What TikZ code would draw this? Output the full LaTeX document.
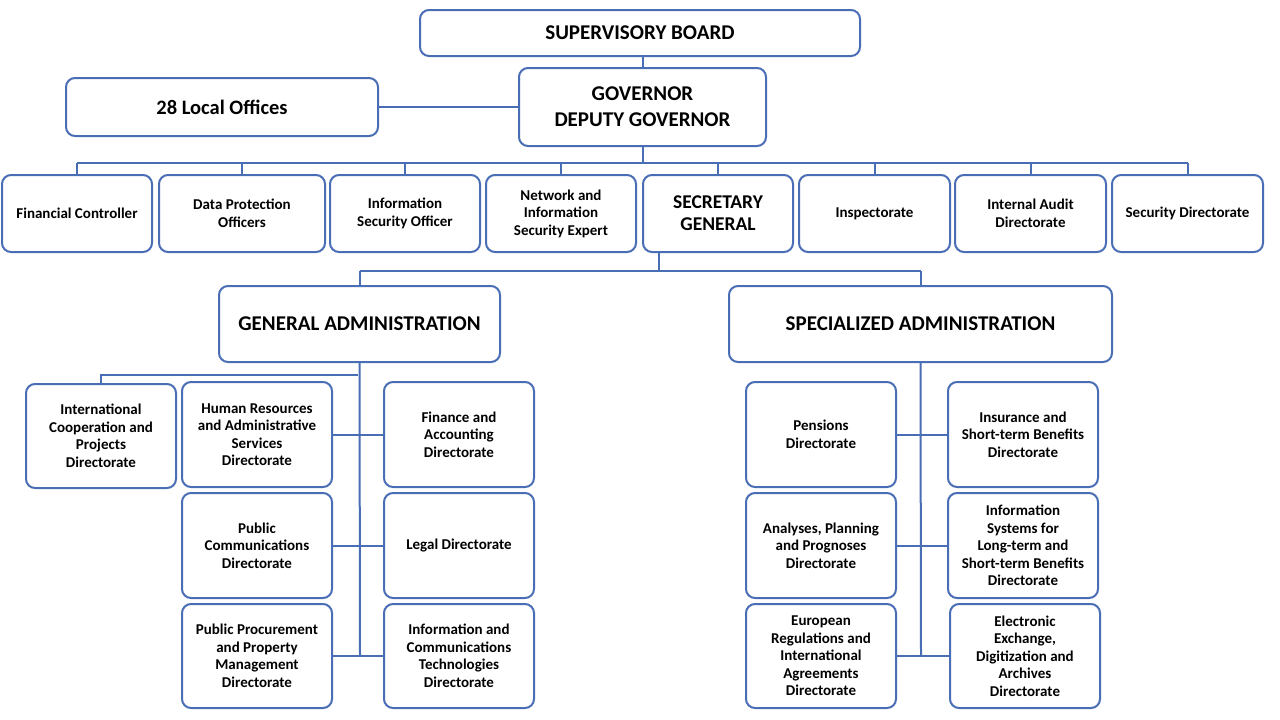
\documentclass[tikz,border=0pt]{standalone}
\usepackage{fontspec}
\setmainfont{Carlito}
\definecolor{bord}{HTML}{4A6EB5}
\begin{document}
\begin{tikzpicture}[x=1pt,y=-1pt,
  box/.style={draw=bord, line width=2pt, rounded corners=9pt, align=center, inner sep=1pt,
    font=\bfseries\fontsize{15}{17.5}\selectfont},
  big/.style={box, font=\bfseries\fontsize{21}{26}\selectfont},
  conn/.style={draw=bord, line width=2pt}]
\useasboundingbox[fill=white] (0,0) rectangle (1280,720);
% top
\node[big, minimum width=440, minimum height=46] (sb) at (640,33) {SUPERVISORY BOARD};
\node[big, minimum width=247, minimum height=78] (gov) at (642.5,107) {GOVERNOR\\DEPUTY GOVERNOR};
\node[big, minimum width=312, minimum height=58, font=\bfseries\fontsize{20.5}{22}\selectfont] (lo) at (222,107) {28 Local Offices};
% row 1
\node[box, minimum width=150, minimum height=77] (fc) at (77,213.5) {Financial Controller};
\node[box, minimum width=166, minimum height=77] (dpo) at (242,213.5) {Data Protection\\Officers};
\node[box, minimum width=150, minimum height=77] (iso) at (405,213.5) {Information\\Security Officer};
\node[box, minimum width=150, minimum height=77] (nis) at (561,213.5) {Network and\\Information\\Security Expert};
\node[box, minimum width=150, minimum height=77, font=\bfseries\fontsize{19.5}{22}\selectfont] (sg) at (718,213.5) {SECRETARY\\GENERAL};
\node[box, minimum width=151, minimum height=77] (insp) at (874.5,213.5) {Inspectorate};
\node[box, minimum width=151, minimum height=77] (iad) at (1030.5,213.5) {Internal Audit\\Directorate};
\node[box, minimum width=151, minimum height=77] (secd) at (1187.5,213.5) {Security Directorate};
% administrations
\node[big, minimum width=281, minimum height=76, font=\bfseries\fontsize{21}{24}\selectfont] (ga) at (359.5,324) {GENERAL ADMINISTRATION};
\node[big, minimum width=383, minimum height=76, font=\bfseries\fontsize{21}{24}\selectfont] (sa) at (920.5,324) {SPECIALIZED ADMINISTRATION};
% general admin children
\node[box, minimum width=150, minimum height=104] (ic) at (101,436) {International\\Cooperation and\\Projects\\Directorate};
\node[box, minimum width=150, minimum height=105] (hr) at (257,434.5) {Human Resources\\and Administrative\\Services\\Directorate};
\node[box, minimum width=150, minimum height=105] (fin) at (459,434.5) {Finance and\\Accounting\\Directorate};
\node[box, minimum width=150, minimum height=105] (pc) at (257,545.5) {Public\\Communications\\Directorate};
\node[box, minimum width=150, minimum height=105] (leg) at (459,545.5) {Legal Directorate};
\node[box, minimum width=150, minimum height=104] (pp) at (257,656) {Public Procurement\\and Property\\Management\\Directorate};
\node[box, minimum width=150, minimum height=104] (ict) at (459,656) {Information and\\Communications\\Technologies\\Directorate};
% specialized admin children
\node[box, minimum width=150, minimum height=105] (pen) at (821,434.5) {Pensions\\Directorate};
\node[box, minimum width=150, minimum height=105] (ins) at (1023,434.5) {Insurance and\\Short-term Benefits\\Directorate};
\node[box, minimum width=150, minimum height=105] (apd) at (821,545.5) {Analyses, Planning\\and Prognoses\\Directorate};
\node[box, minimum width=150, minimum height=105] (isd) at (1023,545.5) {Information\\Systems for\\Long-term and\\Short-term Benefits\\Directorate};
\node[box, minimum width=150, minimum height=104] (eur) at (821,656) {European\\Regulations and\\International\\Agreements\\Directorate};
\node[box, minimum width=150, minimum height=104] (eed) at (1025,656) {Electronic\\Exchange,\\Digitization and\\Archives\\Directorate};
% connectors top
\draw[conn] (gov.north) -- (gov.north |- sb.south);
\draw[conn] (lo.east) -- (gov.west |- lo.east);
\coordinate (busA) at (0,163);
\draw[conn] (gov.south) -- (gov.south |- busA);
\draw[conn] (fc.north |- busA) -- (secd.north |- busA);
\foreach \n in {fc,dpo,iso,nis,sg,insp,iad,secd}{
  \draw[conn] (\n.north) -- (\n.north |- busA);
}
% secretary general to administrations
\coordinate (sgd) at (659,252);
\coordinate (busB) at (0,271);
\draw[conn] (sgd) -- (sgd |- busB);
\draw[conn] (ga.north |- busB) -- (sa.north |- busB);
\draw[conn] (ga.north) -- (ga.north |- busB);
\draw[conn] (sa.north) -- (sa.north |- busB);
% general admin trunk
\coordinate (gaend) at (360,655);
\draw[conn] (ga.south) -- (gaend);
\coordinate (busC) at (358,375);
\draw[conn] (busC) -| (ic.north);
\draw[conn] (hr.east) -- (fin.west);
\draw[conn] (pc.east) -- (leg.west);
\draw[conn] (pp.east) -- (ict.west);
% specialized admin trunk
\coordinate (saend) at (921,655);
\draw[conn] (sa.south) -- (saend);
\draw[conn] (pen.east) -- (ins.west);
\draw[conn] (apd.east) -- (isd.west);
\draw[conn] (eur.east) -- (eed.west);
\end{tikzpicture}
\end{document}
